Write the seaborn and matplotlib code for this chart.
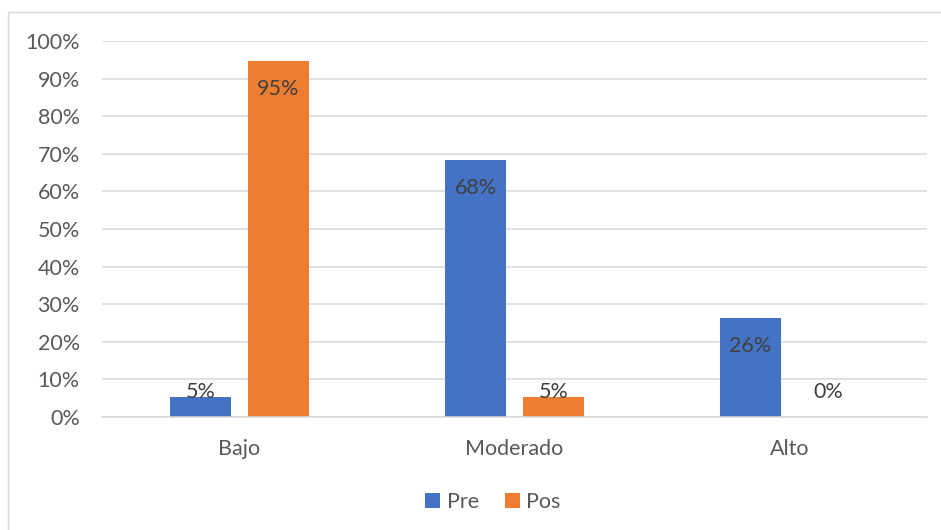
import matplotlib
matplotlib.use("Agg")
import matplotlib.pyplot as plt
from matplotlib.patches import Rectangle
from matplotlib.ticker import PercentFormatter, MultipleLocator
import seaborn as sns
import pandas as pd

# Share of participants per level, before (Pre) and after (Pos)
categories = ["Bajo", "Moderado", "Alto"]
pre_values = [0.0526, 0.6842, 0.2632]
pos_values = [0.9474, 0.0526, 0.0]
series_names = ["Pre", "Pos"]

colors = {"Pre": "#4472C4", "Pos": "#ED7D31"}
grid_gray = "#D9D9D9"
tick_gray = "#595959"
label_gray = "#404040"

df = pd.DataFrame({
    "Nivel": categories * 2,
    "Serie": [series_names[0]] * 3 + [series_names[1]] * 3,
    "Valor": pre_values + pos_values,
})

sns.set_theme(style="white")
plt.rcParams["font.family"] = ["Lato", "DejaVu Sans"]

fs = 15.5

fig = plt.figure(figsize=(9.41, 5.30), dpi=100)
ax = fig.add_axes([102 / 941, 1 - 417 / 530, 825 / 941, 376 / 530])

sns.barplot(data=df, x="Nivel", y="Valor", hue="Serie", order=categories,
            hue_order=series_names, palette=colors, width=0.567, gap=0.217,
            saturation=1, edgecolor="none", legend=True, ax=ax)

ax.set_xlim(-0.5, 2.5)
ax.set_ylim(0, 1.0)
ax.yaxis.set_major_locator(MultipleLocator(0.1))
ax.yaxis.set_major_formatter(PercentFormatter(1.0, decimals=0))
ax.set_xlabel("")
ax.set_ylabel("")
ax.grid(axis="y", color=grid_gray, linewidth=1.1)
ax.set_axisbelow(True)
for side in ["top", "right", "left"]:
    ax.spines[side].set_visible(False)
ax.spines["bottom"].set_color(grid_gray)
ax.spines["bottom"].set_linewidth(1.1)
ax.tick_params(axis="y", length=0, pad=16, labelsize=fs, labelcolor=tick_gray)
ax.tick_params(axis="x", length=0, pad=16, labelsize=fs, labelcolor=tick_gray)

# Value labels just inside the top of each bar, kept clear of the baseline
for container, name in zip(ax.containers, series_names):
    for bar in container:
        v = bar.get_height()
        y = max(v - 0.075, 0.066)
        ax.text(bar.get_x() + bar.get_width() / 2, y, f"{v * 100:.0f}%",
                ha="center", va="center", fontsize=fs, color=label_gray)

handles, labels = ax.get_legend_handles_labels()
ax.legend_.remove()
fig.legend(handles, labels, loc="center", bbox_to_anchor=(493 / 941, 1 - 502 / 530),
           ncol=2, frameon=False, fontsize=fs, labelcolor=tick_gray,
           handlelength=0.7, handleheight=0.7, handletextpad=0.3,
           columnspacing=1.2)

# Chart area outline
fig.patches.append(Rectangle((8 / 941, -0.1), 1.2, 1.1 - 12 / 530,
                             transform=fig.transFigure, fill=False,
                             edgecolor=grid_gray, linewidth=1.0))

fig.savefig("out.png", dpi=100)
